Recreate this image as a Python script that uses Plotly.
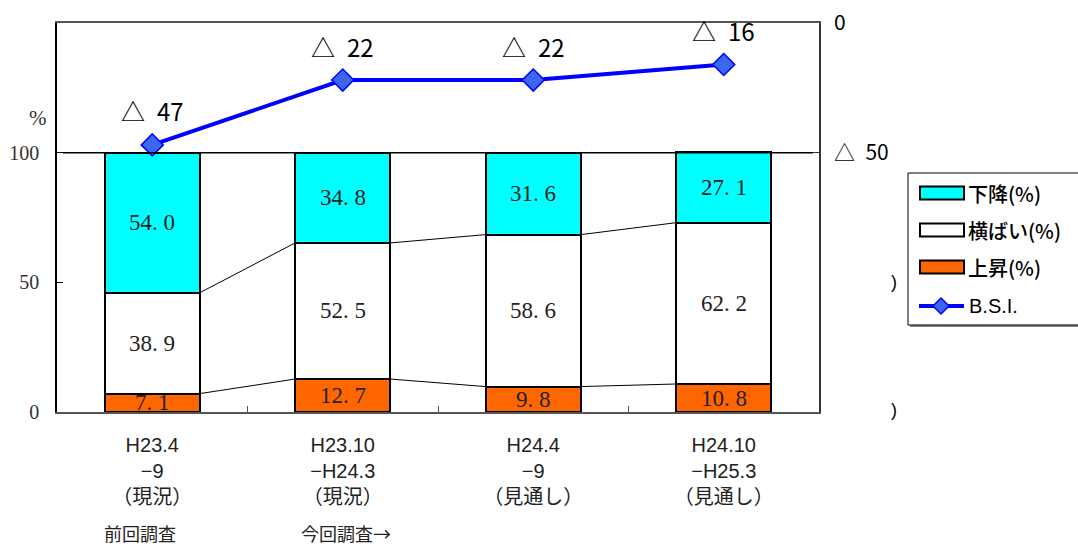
import plotly.graph_objects as go

# ---- data ----
categories = ["H23.4<br>−9<br>（現況）", "H23.10<br>−H24.3<br>（現況）",
              "H24.4<br>−9<br>（見通し）", "H24.10<br>−H25.3<br>（見通し）"]
rise = [7.1, 12.7, 9.8, 10.8]          # 上昇(%)
flat = [38.9, 52.5, 58.6, 62.2]        # 横ばい(%)
fall = [54.0, 34.8, 31.6, 27.1]        # 下降(%)
bsi = [-47, -22, -22, -16]             # B.S.I.
left_ticks = [0, 50, 100]
right_ticks = [0, -50]
right_ticktext = ["0", "△\u200250"]

# ---- layout geometry (pixels) ----
W, H = 1078, 548
L, R, T, B = 57, 259, 23, 136
PW, PH = W - L - R, H - T - B


def px(x):
    return (x - L) / PW


def py(y):
    return (H - B - y) / PH


SERIF = "Liberation Serif, Noto Sans CJK JP, serif"
SANS = "Liberation Sans, Noto Sans CJK JP, sans-serif"
CJK = "Noto Sans CJK JP, sans-serif"

xs = list(range(len(categories)))
bw = 0.5

fig = go.Figure()

for name, vals, color in [("上昇(%)", rise, "#FF6600"),
                          ("横ばい(%)", flat, "#FFFFFF"),
                          ("下降(%)", fall, "#00FFFF")]:
    fig.add_trace(go.Bar(x=xs, y=vals, name=name, width=bw,
                         marker=dict(color=color, line=dict(color="#000000", width=2)),
                         showlegend=False, hoverinfo="skip"))

# series lines joining the segment tops of neighbouring bars
tops_rise = rise
tops_flat = [r + f for r, f in zip(rise, flat)]
for tops in (tops_rise, tops_flat):
    for i in range(len(xs) - 1):
        fig.add_trace(go.Scatter(x=[xs[i] + bw / 2, xs[i + 1] - bw / 2],
                                 y=[tops[i], tops[i + 1]], mode="lines",
                                 line=dict(color="#000000", width=1),
                                 showlegend=False, hoverinfo="skip"))

# B.S.I. line on the right axis
fig.add_trace(go.Scatter(x=xs, y=bsi, yaxis="y2", mode="lines+markers", name="B.S.I.",
                         line=dict(color="#0000FF", width=4),
                         marker=dict(symbol="diamond", size=17, color="#3A66F0",
                                     line=dict(color="#0000FF", width=1.5)),
                         showlegend=False, hoverinfo="skip"))

annotations = []


def note(x, y, text, font, xanchor="center"):
    annotations.append(dict(x=px(x), y=py(y), xref="paper", yref="paper",
                            xanchor=xanchor, yanchor="middle",
                            text=text, showarrow=False, font=font))


# value labels inside each segment
for i in xs:
    base = 0
    for vals in (rise, flat, fall):
        v = vals[i]
        annotations.append(dict(x=i, y=base + v / 2, xref="x", yref="y",
                                xanchor="center", yanchor="middle",
                                text=f"{v:.1f}".replace(".", ". "), showarrow=False,
                                font=dict(family=SERIF, size=23, color="#222222")))
        base += v

# B.S.I. labels
for i, v in zip(xs, bsi):
    annotations.append(dict(x=i, y=v, xref="x", yref="y2", yshift=34,
                            xanchor="center", yanchor="middle",
                            text=f"△\u2002{abs(v)}", showarrow=False,
                            font=dict(family=CJK, size=24, color="#000000")))

# axis caption and survey notes
note(38, 118, "%", dict(family=SERIF, size=21, color="#333333"))
note(140, 533, "前回調査", dict(family=CJK, size=18, color="#222222"))
note(346, 533, "今回調査→", dict(family=CJK, size=18, color="#222222"))
note(894, 282, ")", dict(family=SANS, size=18, color="#000000"))
note(894, 410, ")", dict(family=SANS, size=18, color="#000000"))

shapes = [
    # reference line at 100 %
    dict(type="line", xref="paper", yref="y", x0=px(63), x1=px(813), y0=100, y1=100,
         line=dict(color="#000000", width=1.5)),
]

# legend box
lx0, lx1, ly0, ly1 = 908, 1090, 173, 325
shapes.append(dict(type="rect", xref="paper", yref="paper",
                   x0=px(lx0 + 2), x1=px(lx1 + 2), y0=py(ly1 + 2), y1=py(ly0 + 2),
                   fillcolor="#888888", line=dict(width=0), layer="above"))
shapes.append(dict(type="rect", xref="paper", yref="paper",
                   x0=px(lx0), x1=px(lx1), y0=py(ly1), y1=py(ly0),
                   fillcolor="#FFFFFF", line=dict(color="#000000", width=1), layer="above"))
legend_items = [("下降(%)", "#00FFFF", 193), ("横ばい(%)", "#FFFFFF", 230),
                ("上昇(%)", "#FF6600", 267)]
for label, color, cy in legend_items:
    shapes.append(dict(type="rect", xref="paper", yref="paper",
                       x0=px(920), x1=px(964), y0=py(cy + 6.5), y1=py(cy - 6.5),
                       fillcolor=color, line=dict(color="#000000", width=2), layer="above"))
    note(966, cy, label, dict(family=CJK, size=20, color="#000000", weight=500),
         xanchor="left")
shapes.append(dict(type="line", xref="paper", yref="paper", x0=px(919), x1=px(964),
                   y0=py(306), y1=py(306), line=dict(color="#0000FF", width=4), layer="above"))
shapes.append(dict(type="path", xref="paper", yref="paper",
                   path=(f"M {px(941)},{py(298)} L {px(949)},{py(306)} "
                         f"L {px(941)},{py(314)} L {px(933)},{py(306)} Z"),
                   fillcolor="#3A66F0", line=dict(color="#0000FF", width=1.5), layer="above"))
note(967, 306, "B.S.I.", dict(family=SANS, size=20, color="#000000"), xanchor="left")

fig.update_layout(
    width=W, height=H,
    margin=dict(l=L, r=R, t=T, b=B, autoexpand=False),
    paper_bgcolor="#FFFFFF", plot_bgcolor="#FFFFFF",
    barmode="stack", bargap=0.5,
    showlegend=False,
    xaxis=dict(range=[-0.5, 3.5], tickvals=xs, ticktext=categories,
               ticks="", showgrid=False, zeroline=False, automargin=False,
               showline=True, linecolor="#555555", linewidth=1.5, mirror=True,
               ticklabelstandoff=14,
               tickfont=dict(family=SANS, size=20, color="#222222"),
               minor=dict(tickvals=[0.5, 1.5, 2.5], ticks="inside", ticklen=6,
                          tickcolor="#555555", showgrid=False)),
    yaxis=dict(range=[0, 150], tickvals=left_ticks, ticks="inside", ticklen=6,
               tickcolor="#000000", showgrid=False, zeroline=False, automargin=False,
               showline=True, linecolor="#000000", linewidth=1.5,
               ticklabelstandoff=12,
               tickfont=dict(family=SERIF, size=20, color="#333333")),
    yaxis2=dict(range=[-150, 0], overlaying="y", side="right",
                tickvals=right_ticks, ticktext=right_ticktext,
                ticks="inside", ticklen=6, tickcolor="#333333",
                showgrid=False, zeroline=False, automargin=False,
                showline=True, linecolor="#333333", linewidth=1.5,
                ticklabelstandoff=9,
                tickfont=dict(family=CJK, size=21, color="#000000")),
    shapes=shapes,
    annotations=annotations,
)

fig.write_html("out.html")
